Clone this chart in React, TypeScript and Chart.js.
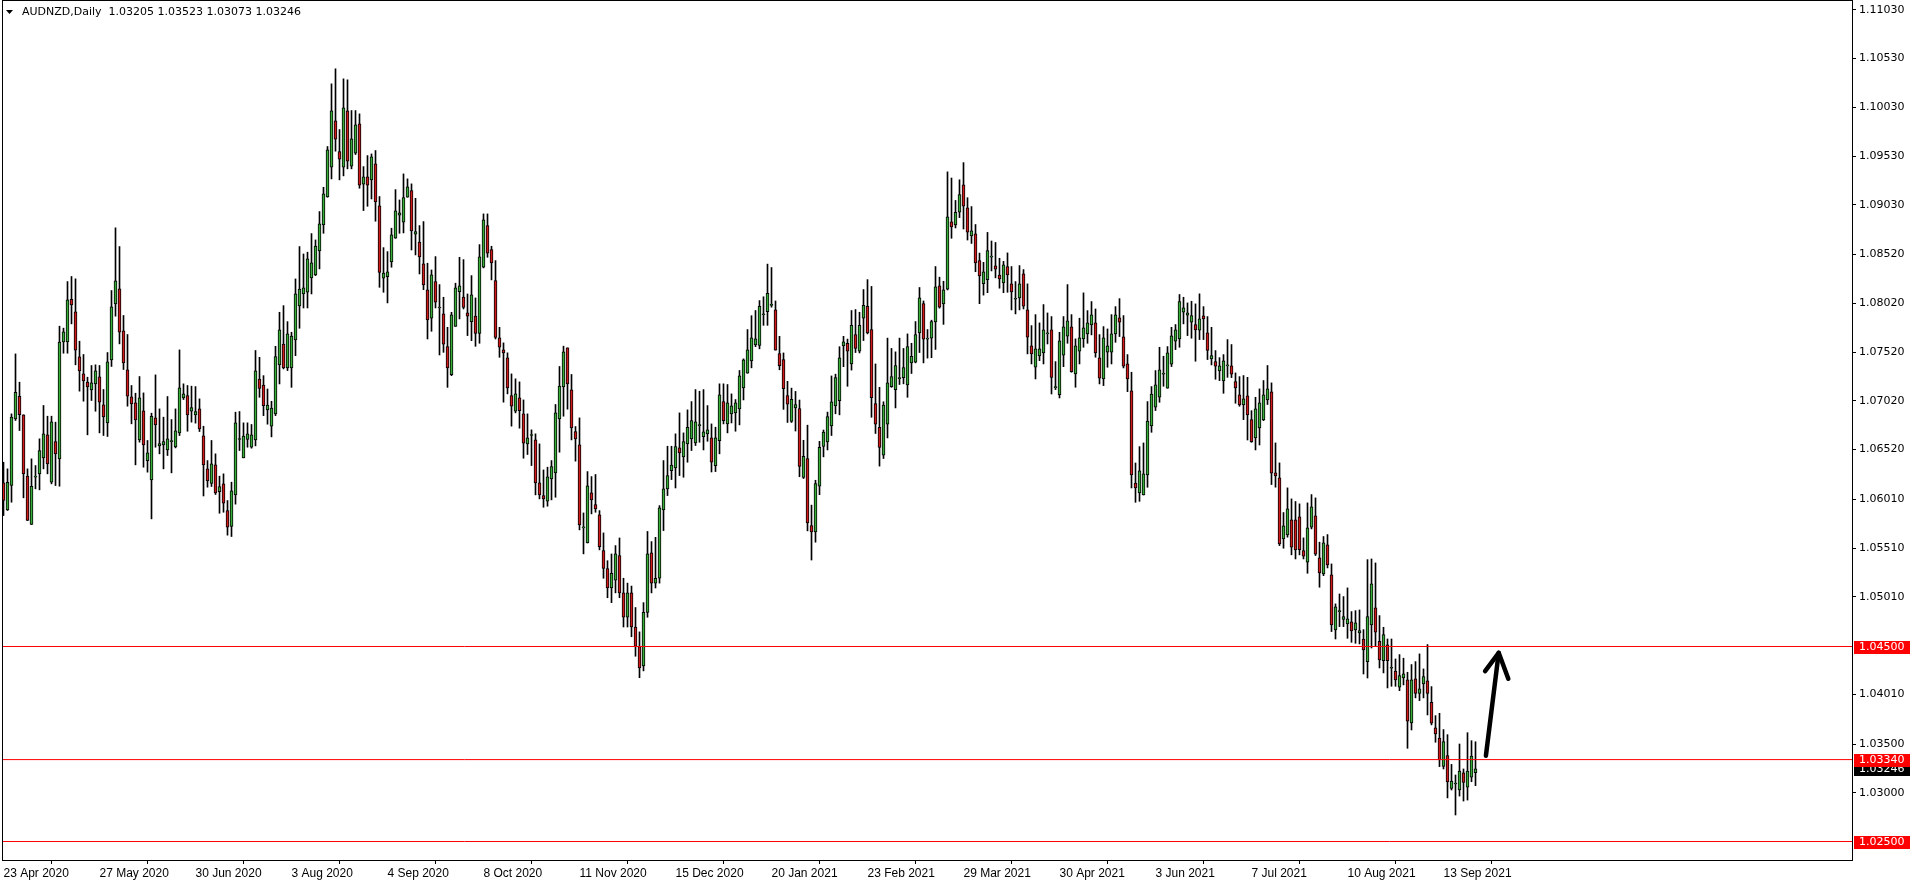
import React, { useEffect, useRef } from 'react';
import { Chart, registerables } from 'chart.js';

Chart.register(...registerables);

const symbolTitle = 'AUDNZD,Daily';
const headerOHLC = ['1.03205', '1.03523', '1.03073', '1.03246'];

const opens = [
  1.06178, 1.05901, 1.06151, 1.06835, 1.07067, 1.06876, 1.06247, 1.05751, 1.06237, 1.06271,
  1.06435, 1.06671, 1.06185, 1.06602, 1.06425, 1.07625, 1.07625, 1.08062, 1.07932, 1.07471,
  1.07296, 1.07211, 1.07132, 1.07194, 1.07266, 1.06978, 1.06794, 1.07440, 1.08014, 1.08168,
  1.07737, 1.07337, 1.07060, 1.06999, 1.06619, 1.06917, 1.06407, 1.06209, 1.06845, 1.06558,
  1.06568, 1.06517, 1.06602, 1.06548, 1.06691, 1.07050, 1.07074, 1.06913, 1.06876, 1.06937,
  1.06660, 1.06322, 1.06172, 1.06363, 1.06089, 1.06168, 1.05895, 1.05731, 1.06055, 1.06623,
  1.06435, 1.06623, 1.06544, 1.06619, 1.07244, 1.07182, 1.06926, 1.06760, 1.06885, 1.07388,
  1.07603, 1.07357, 1.07357, 1.07644, 1.07993, 1.08116, 1.08133, 1.08280, 1.08311, 1.08557,
  1.08824, 1.09111, 1.09416, 1.09891, 1.09576, 1.09416, 1.09994, 1.09426, 1.09559, 1.09860,
  1.09241, 1.09316, 1.09286, 1.09450, 1.09019, 1.08277, 1.08294, 1.08444, 1.08687, 1.08923,
  1.08851, 1.09108, 1.09176, 1.08728, 1.08649, 1.08424, 1.08157, 1.07867, 1.08243, 1.07972,
  1.07911, 1.07576, 1.07289, 1.07784, 1.08140, 1.08085, 1.07921, 1.07832, 1.07890, 1.07712,
  1.08390, 1.08817, 1.08571, 1.08253, 1.07665, 1.07543, 1.07461, 1.07074, 1.06913, 1.07050,
  1.06886, 1.06578, 1.06664, 1.06619, 1.06178, 1.06048, 1.05990, 1.06219, 1.06281, 1.06835,
  1.07163, 1.07563, 1.07132, 1.06705, 1.06568, 1.05716, 1.05562, 1.06075, 1.05956, 1.05850,
  1.05484, 1.05300, 1.05100, 1.05180, 1.05432, 1.05050, 1.04800, 1.05050, 1.04700, 1.04500,
  1.04300, 1.04850, 1.05460, 1.05150, 1.05200, 1.05901, 1.06116, 1.06304, 1.06332, 1.06537,
  1.06445, 1.06578, 1.06630, 1.06588, 1.06766, 1.06653, 1.06680, 1.06640, 1.06355, 1.06612,
  1.07012, 1.06783, 1.06886, 1.06896, 1.06937, 1.07153, 1.07303, 1.07429, 1.07594, 1.07587,
  1.07903, 1.07935, 1.07998, 1.07953, 1.07504, 1.07444, 1.07074, 1.06809, 1.06947, 1.06940,
  1.06234, 1.06428, 1.05739, 1.05676, 1.06145, 1.06551, 1.06597, 1.06763, 1.06968, 1.07021,
  1.07582, 1.07610, 1.07398, 1.07698, 1.07529, 1.07868, 1.07988, 1.07751, 1.06992, 1.06749,
  1.06463, 1.06780, 1.07165, 1.07134, 1.07247, 1.07257, 1.07183, 1.07409, 1.07416, 1.07716,
  1.08016, 1.07653, 1.07663, 1.07829, 1.08200, 1.08013, 1.08164, 1.08856, 1.08825, 1.08955,
  1.09234, 1.08998, 1.08712, 1.08733, 1.08457, 1.08221, 1.08263, 1.08493, 1.08404, 1.08309,
  1.08228, 1.08397, 1.08219, 1.08062, 1.08075, 1.08322, 1.07952, 1.07583, 1.07364, 1.07480,
  1.07511, 1.07706, 1.07747, 1.07155, 1.07083, 1.07487, 1.07682, 1.07778, 1.07296, 1.07528,
  1.07655, 1.07706, 1.07798, 1.07819, 1.07460, 1.07244, 1.07518, 1.07518, 1.07706, 1.07870,
  1.07675, 1.07398, 1.07121, 1.06177, 1.06075, 1.06054, 1.06259, 1.06762, 1.06954, 1.07056,
  1.07292, 1.07149, 1.07395, 1.07631, 1.07655, 1.07928, 1.07898, 1.07826, 1.07802, 1.07744,
  1.07891, 1.07716, 1.07449, 1.07422, 1.07326, 1.07224, 1.07378, 1.07378, 1.07217, 1.07080,
  1.06978, 1.07070, 1.06827, 1.06639, 1.06742, 1.06824, 1.07030, 1.07112, 1.06281, 1.06230,
  1.05603, 1.05645, 1.05798, 1.05798, 1.05829, 1.05484, 1.05364, 1.05723, 1.05839, 1.05409,
  1.05244, 1.05542, 1.05234, 1.04670, 1.04858, 1.04779, 1.04731, 1.04752, 1.04670, 1.04639,
  1.04577, 1.04345, 1.04721, 1.04896, 1.04554, 1.04355, 1.04516, 1.04277, 1.04249, 1.04082,
  1.04178, 1.04157, 1.03716, 1.04168, 1.04020, 1.04116, 1.04147, 1.03928, 1.03665, 1.03562,
  1.03271, 1.03381, 1.03045, 1.03090, 1.03028, 1.03205, 1.03058, 1.03161, 1.03205,
];

const highs = [
  1.06390, 1.06322, 1.06886, 1.07501, 1.07211, 1.06876, 1.06322, 1.06425, 1.06356, 1.06630,
  1.06972, 1.06862, 1.06862, 1.06801, 1.07785, 1.07765, 1.08243, 1.08295, 1.08271, 1.07631,
  1.07495, 1.07262, 1.07382, 1.07389, 1.07382, 1.07136, 1.07515, 1.08151, 1.08794, 1.08602,
  1.07895, 1.07700, 1.07177, 1.07098, 1.07269, 1.07101, 1.06613, 1.06893, 1.07286, 1.06937,
  1.06852, 1.07064, 1.06828, 1.06937, 1.07542, 1.07194, 1.07177, 1.07170, 1.07166, 1.07040,
  1.06759, 1.06407, 1.06613, 1.06476, 1.06247, 1.06271, 1.05997, 1.06185, 1.06903, 1.06910,
  1.06794, 1.06794, 1.06777, 1.07536, 1.07466, 1.07278, 1.07141, 1.07015, 1.07579, 1.07928,
  1.07996, 1.07832, 1.07723, 1.08270, 1.08602, 1.08526, 1.08544, 1.08735, 1.08670, 1.08961,
  1.09210, 1.09628, 1.10271, 1.10425, 1.09802, 1.10322, 1.10312, 1.09997, 1.09997, 1.09963,
  1.09422, 1.09535, 1.09552, 1.09587, 1.09115, 1.08591, 1.08550, 1.08790, 1.09186, 1.09080,
  1.09347, 1.09296, 1.09245, 1.09097, 1.08817, 1.08858, 1.08431, 1.08362, 1.08499, 1.08212,
  1.08082, 1.07774, 1.07928, 1.08226, 1.08492, 1.08468, 1.08116, 1.08304, 1.08075, 1.08622,
  1.08937, 1.08937, 1.08605, 1.08458, 1.07774, 1.07614, 1.07512, 1.07296, 1.07245, 1.07214,
  1.07029, 1.06886, 1.06722, 1.06681, 1.06578, 1.06311, 1.06339, 1.06407, 1.06982, 1.07372,
  1.07580, 1.07563, 1.07290, 1.06756, 1.06845, 1.05870, 1.06294, 1.06243, 1.06264, 1.05894,
  1.05665, 1.05380, 1.05449, 1.05535, 1.05613, 1.05200, 1.05150, 1.05120, 1.04900, 1.04650,
  1.04950, 1.05680, 1.05576, 1.05620, 1.05945, 1.06407, 1.06554, 1.06554, 1.06681, 1.06896,
  1.06691, 1.06927, 1.07012, 1.07135, 1.07118, 1.07135, 1.06971, 1.06783, 1.06749, 1.07194,
  1.07194, 1.07187, 1.07091, 1.07033, 1.07331, 1.07450, 1.07751, 1.07893, 1.07946, 1.08048,
  1.08087, 1.08422, 1.08387, 1.08044, 1.07681, 1.07511, 1.07220, 1.07150, 1.07116, 1.07028,
  1.06615, 1.06770, 1.05950, 1.06205, 1.06604, 1.06720, 1.06904, 1.07275, 1.07293, 1.07575,
  1.07681, 1.07653, 1.07946, 1.07956, 1.07928, 1.08161, 1.08263, 1.08193, 1.07398, 1.07158,
  1.07010, 1.07663, 1.07557, 1.07522, 1.07663, 1.07557, 1.07706, 1.07610, 1.07833, 1.08182,
  1.08044, 1.07751, 1.07847, 1.08397, 1.08288, 1.08246, 1.09368, 1.09305, 1.09075, 1.09287,
  1.09463, 1.09103, 1.09012, 1.08828, 1.08535, 1.08440, 1.08747, 1.08659, 1.08644, 1.08482,
  1.08450, 1.08537, 1.08397, 1.08243, 1.08407, 1.08366, 1.08219, 1.07791, 1.07904, 1.07819,
  1.08007, 1.07921, 1.07884, 1.07422, 1.07723, 1.07884, 1.08212, 1.07904, 1.07655, 1.07867,
  1.08127, 1.07945, 1.08038, 1.07962, 1.07699, 1.07781, 1.07757, 1.07904, 1.07986, 1.08068,
  1.07894, 1.07494, 1.07313, 1.06382, 1.06550, 1.06588, 1.07012, 1.07166, 1.07330, 1.07569,
  1.07477, 1.07576, 1.07774, 1.07802, 1.08110, 1.08082, 1.08024, 1.08041, 1.08014, 1.08117,
  1.07986, 1.07884, 1.07774, 1.07535, 1.07463, 1.07494, 1.07648, 1.07597, 1.07306, 1.07268,
  1.07279, 1.07261, 1.06919, 1.07056, 1.07142, 1.07228, 1.07382, 1.07204, 1.06588, 1.06383,
  1.05874, 1.06127, 1.06014, 1.05987, 1.05963, 1.05614, 1.05973, 1.06058, 1.06024, 1.05570,
  1.05628, 1.05648, 1.05347, 1.04937, 1.05039, 1.05012, 1.05101, 1.04858, 1.04868, 1.04875,
  1.04673, 1.05391, 1.05398, 1.05357, 1.04817, 1.04697, 1.04577, 1.04577, 1.04372, 1.04417,
  1.04380, 1.04236, 1.04315, 1.04345, 1.04424, 1.04270, 1.04520, 1.04089, 1.03791, 1.03815,
  1.03648, 1.03596, 1.03291, 1.03182, 1.03500, 1.03244, 1.03616, 1.03534, 1.03523,
];

const lows = [
  1.05843, 1.05895, 1.05980, 1.06818, 1.06715, 1.06025, 1.05792, 1.05751, 1.06117, 1.06107,
  1.06322, 1.06271, 1.06168, 1.06151, 1.06144, 1.07508, 1.07508, 1.07809, 1.07389, 1.07119,
  1.07016, 1.06671, 1.07023, 1.06913, 1.06691, 1.06664, 1.06654, 1.07372, 1.07888, 1.07604,
  1.07341, 1.06965, 1.06784, 1.06363, 1.06596, 1.06339, 1.06288, 1.05809, 1.06544, 1.06476,
  1.06322, 1.06459, 1.06281, 1.06537, 1.06664, 1.07033, 1.06708, 1.06801, 1.06791, 1.06705,
  1.06044, 1.06134, 1.06141, 1.06059, 1.05867, 1.05877, 1.05642, 1.05628, 1.05960, 1.06510,
  1.06435, 1.06544, 1.06534, 1.06558, 1.07056, 1.06868, 1.06780, 1.06650, 1.06868, 1.07193,
  1.07347, 1.07330, 1.07158, 1.07483, 1.07764, 1.07972, 1.07972, 1.08116, 1.08304, 1.08373,
  1.08738, 1.09108, 1.09296, 1.09580, 1.09286, 1.09327, 1.09399, 1.09399, 1.09546, 1.09200,
  1.08971, 1.09015, 1.09090, 1.08862, 1.08184, 1.08133, 1.08024, 1.08390, 1.08687, 1.08738,
  1.08742, 1.09108, 1.08567, 1.08516, 1.08321, 1.08160, 1.07654, 1.07733, 1.07972, 1.07490,
  1.07517, 1.07158, 1.07278, 1.07784, 1.07860, 1.07962, 1.07689, 1.07637, 1.07579, 1.07610,
  1.08383, 1.08492, 1.08260, 1.07654, 1.07466, 1.07006, 1.07091, 1.06760, 1.06896, 1.06739,
  1.06431, 1.06469, 1.06356, 1.06055, 1.06014, 1.05928, 1.05939, 1.06004, 1.06031, 1.06493,
  1.06862, 1.06934, 1.06619, 1.06401, 1.05696, 1.05450, 1.05562, 1.05860, 1.05877, 1.05491,
  1.05200, 1.05000, 1.04950, 1.05050, 1.05000, 1.04700, 1.04700, 1.04600, 1.04400, 1.04180,
  1.04250, 1.04800, 1.05050, 1.05100, 1.05150, 1.05689, 1.06048, 1.06212, 1.06126, 1.06253,
  1.06236, 1.06390, 1.06510, 1.06561, 1.06595, 1.06516, 1.06605, 1.06290, 1.06294, 1.06476,
  1.06783, 1.06691, 1.06793, 1.06708, 1.06773, 1.07029, 1.07303, 1.07358, 1.07575, 1.07553,
  1.07794, 1.07794, 1.07980, 1.07540, 1.07338, 1.06932, 1.06798, 1.06798, 1.06710, 1.06241,
  1.06223, 1.05686, 1.05387, 1.05570, 1.06057, 1.06445, 1.06516, 1.06664, 1.06887, 1.06876,
  1.07370, 1.07169, 1.07335, 1.07515, 1.07511, 1.07638, 1.07706, 1.06851, 1.06685, 1.06350,
  1.06428, 1.06639, 1.07158, 1.06947, 1.07187, 1.07194, 1.07056, 1.07300, 1.07409, 1.07515,
  1.07409, 1.07458, 1.07462, 1.07547, 1.07970, 1.07804, 1.08157, 1.08687, 1.08793, 1.08899,
  1.08782, 1.08669, 1.08634, 1.08344, 1.08016, 1.08104, 1.08129, 1.08352, 1.08281, 1.08175,
  1.08129, 1.08133, 1.07952, 1.07911, 1.07952, 1.07962, 1.07501, 1.07398, 1.07244, 1.07432,
  1.07398, 1.07603, 1.07090, 1.07135, 1.07049, 1.07370, 1.07610, 1.07313, 1.07159, 1.07398,
  1.07569, 1.07610, 1.07696, 1.07467, 1.07193, 1.07176, 1.07364, 1.07398, 1.07620, 1.07679,
  1.07357, 1.07114, 1.06126, 1.05979, 1.05989, 1.06054, 1.06133, 1.06697, 1.06920, 1.07005,
  1.07169, 1.07149, 1.07371, 1.07545, 1.07569, 1.07809, 1.07689, 1.07662, 1.07426, 1.07648,
  1.07648, 1.07443, 1.07388, 1.07241, 1.07227, 1.07097, 1.07261, 1.07258, 1.06995, 1.06964,
  1.06827, 1.06618, 1.06594, 1.06516, 1.06567, 1.06817, 1.06982, 1.06161, 1.06134, 1.05535,
  1.05508, 1.05621, 1.05440, 1.05398, 1.05440, 1.05398, 1.05251, 1.05706, 1.05433, 1.05108,
  1.05227, 1.05306, 1.04653, 1.04577, 1.04704, 1.04704, 1.04584, 1.04543, 1.04533, 1.04526,
  1.04218, 1.04177, 1.04485, 1.04502, 1.04280, 1.04229, 1.04075, 1.04092, 1.04092, 1.04047,
  1.04106, 1.03456, 1.03644, 1.03973, 1.03945, 1.03973, 1.03798, 1.03696, 1.03518, 1.03268,
  1.03244, 1.02947, 1.03028, 1.02772, 1.02966, 1.02915, 1.02925, 1.03113, 1.03073,
];

const closes = [
  1.05997, 1.06185, 1.06852, 1.07108, 1.06879, 1.06271, 1.05792, 1.06144, 1.06237, 1.06510,
  1.06681, 1.06373, 1.06804, 1.06476, 1.07621, 1.07727, 1.08055, 1.08004, 1.07539, 1.07327,
  1.07225, 1.07163, 1.07204, 1.07327, 1.07006, 1.06855, 1.07419, 1.07984, 1.08250, 1.07724,
  1.07409, 1.07067, 1.06989, 1.06825, 1.07050, 1.06568, 1.06486, 1.06862, 1.06773, 1.06582,
  1.06602, 1.06630, 1.06602, 1.06712, 1.07153, 1.07091, 1.06876, 1.06951, 1.06910, 1.06732,
  1.06363, 1.06199, 1.06373, 1.06076, 1.06141, 1.05970, 1.05724, 1.06096, 1.06794, 1.06623,
  1.06657, 1.06681, 1.06671, 1.07327, 1.07148, 1.06970, 1.06977, 1.06946, 1.07473, 1.07747,
  1.07357, 1.07706, 1.07685, 1.08116, 1.08167, 1.08178, 1.08475, 1.08434, 1.08608, 1.08834,
  1.09142, 1.09593, 1.09994, 1.09703, 1.09498, 1.10024, 1.09477, 1.09706, 1.09850, 1.09231,
  1.09316, 1.09231, 1.09522, 1.09060, 1.08338, 1.08331, 1.08342, 1.08721, 1.08968, 1.08947,
  1.09104, 1.09214, 1.08762, 1.08756, 1.08496, 1.08208, 1.07850, 1.08311, 1.08031, 1.07972,
  1.07600, 1.07357, 1.07901, 1.08178, 1.08198, 1.07979, 1.07887, 1.08106, 1.07712, 1.08496,
  1.08875, 1.08533, 1.08434, 1.07671, 1.07569, 1.07512, 1.07153, 1.06965, 1.07091, 1.06920,
  1.06585, 1.06640, 1.06664, 1.06178, 1.06055, 1.06014, 1.06240, 1.06346, 1.06896, 1.07170,
  1.07522, 1.07194, 1.06742, 1.06630, 1.05747, 1.05716, 1.06147, 1.06004, 1.05911, 1.05525,
  1.05300, 1.05100, 1.05250, 1.05450, 1.05050, 1.04800, 1.05050, 1.04700, 1.04500, 1.04280,
  1.04850, 1.05450, 1.05150, 1.05200, 1.05921, 1.06116, 1.06253, 1.06362, 1.06551, 1.06486,
  1.06602, 1.06749, 1.06817, 1.06804, 1.06766, 1.06701, 1.06722, 1.06390, 1.06640, 1.07080,
  1.06817, 1.06998, 1.06968, 1.06998, 1.07276, 1.07440, 1.07543, 1.07665, 1.07656, 1.07990,
  1.07903, 1.08122, 1.07998, 1.07540, 1.07381, 1.07144, 1.06985, 1.07035, 1.06982, 1.06347,
  1.06450, 1.05767, 1.05676, 1.06170, 1.06544, 1.06699, 1.06858, 1.07010, 1.07257, 1.07462,
  1.07624, 1.07529, 1.07794, 1.07557, 1.07794, 1.07998, 1.07716, 1.07052, 1.06780, 1.06541,
  1.06975, 1.07204, 1.07268, 1.07381, 1.07247, 1.07360, 1.07575, 1.07476, 1.07698, 1.08076,
  1.07653, 1.07653, 1.07833, 1.08190, 1.07981, 1.08157, 1.08906, 1.08803, 1.08952, 1.09135,
  1.09015, 1.08750, 1.08764, 1.08433, 1.08302, 1.08344, 1.08560, 1.08493, 1.08369, 1.08270,
  1.08415, 1.08311, 1.08137, 1.08062, 1.08219, 1.07990, 1.07672, 1.07501, 1.07552, 1.07552,
  1.07747, 1.07706, 1.07261, 1.07155, 1.07634, 1.07778, 1.07840, 1.07320, 1.07583, 1.07665,
  1.07768, 1.07819, 1.07901, 1.07511, 1.07251, 1.07665, 1.07583, 1.07706, 1.07901, 1.07826,
  1.07374, 1.07244, 1.06259, 1.06126, 1.06301, 1.06270, 1.06813, 1.07090, 1.07183, 1.07337,
  1.07292, 1.07511, 1.07686, 1.07747, 1.08038, 1.07973, 1.07921, 1.07894, 1.07747, 1.07860,
  1.07860, 1.07538, 1.07484, 1.07374, 1.07378, 1.07429, 1.07378, 1.07292, 1.07152, 1.06978,
  1.07039, 1.06875, 1.06601, 1.06937, 1.06998, 1.07081, 1.07142, 1.06277, 1.06250, 1.05552,
  1.05737, 1.05911, 1.05518, 1.05490, 1.05494, 1.05426, 1.05716, 1.05932, 1.05446, 1.05255,
  1.05563, 1.05337, 1.04721, 1.04906, 1.04858, 1.04807, 1.04783, 1.04660, 1.04742, 1.04663,
  1.04465, 1.04807, 1.05142, 1.04646, 1.04362, 1.04622, 1.04355, 1.04277, 1.04157, 1.04201,
  1.04219, 1.03733, 1.04157, 1.04020, 1.04065, 1.04191, 1.04020, 1.03713, 1.03603, 1.03336,
  1.03525, 1.03111, 1.03120, 1.03090, 1.03223, 1.03106, 1.03223, 1.03376, 1.03246,
];

const xTickLabels = [
  '23 Apr 2020', '27 May 2020', '30 Jun 2020', '3 Aug 2020', '4 Sep 2020', '8 Oct 2020',
  '11 Nov 2020', '15 Dec 2020', '20 Jan 2021', '23 Feb 2021', '29 Mar 2021', '30 Apr 2021',
  '3 Jun 2021', '7 Jul 2021', '10 Aug 2021', '13 Sep 2021',
];
const barsPerXTick = 24;

const yTickValues = [
  1.1103, 1.1053, 1.1003, 1.0953, 1.0903, 1.0852, 1.0802, 1.0752, 1.0702, 1.0652,
  1.0601, 1.0551, 1.0501, 1.0401, 1.035, 1.03,
];

const levelPrices = [1.045, 1.0334, 1.025];
const currentPrice = 1.03246;

const arrowShaftX = [370.6, 373.8];
const arrowShaftY = [1.0338, 1.04435];
const arrowHeadX = [370.4, 373.8, 376.2];
const arrowHeadY = [1.04247, 1.04435, 1.04169];

const BULL = '#38ad38';
const BEAR = '#d11b1b';
const LEVEL = '#ff0000';

export default function App() {
  const ref = useRef<HTMLCanvasElement>(null);

  useEffect(() => {
    document.body.style.margin = '0';
    const canvas = ref.current;
    if (!canvas) return;

    const X_MIN = -0.375;
    const X_MAX = 462.125;
    const Y_MAX = 1.111205;
    const Y_MIN = 1.023103;

    const idx = opens.map((_, i) => i);
    const wickData = idx.map((i) => ({ x: i, y: [lows[i], highs[i]] }));
    const bodyData = idx.map((i) => ({ x: i, y: [opens[i], closes[i]] }));
    const bodyColors = idx.map((i) => (closes[i] >= opens[i] ? BULL : BEAR));

    const levelSets = levelPrices.map((p) => ({
      type: 'line' as const,
      data: [{ x: X_MIN, y: p }, { x: X_MAX, y: p }],
      borderColor: LEVEL,
      borderWidth: 1,
      pointRadius: 0,
      order: 1,
    }));

    const overlay = {
      id: 'mt4overlay',
      afterDraw(chart: any) {
        const { ctx, chartArea: a, scales } = chart;
        const ys = scales.y;
        ctx.save();
        // frame
        ctx.strokeStyle = '#000';
        ctx.lineWidth = 1;
        ctx.strokeRect(a.left + 0.5, a.top - 0.5, a.right - a.left, a.bottom - a.top + 1);

        // header
        ctx.fillStyle = '#000';
        ctx.beginPath();
        ctx.moveTo(6, 10);
        ctx.lineTo(13, 10);
        ctx.lineTo(9.5, 14);
        ctx.closePath();
        ctx.fill();
        ctx.font = '11px "DejaVu Sans"';
        ctx.textBaseline = 'middle';
        ctx.textAlign = 'left';
        ctx.fillText(symbolTitle + '  ' + headerOHLC.join(' '), 22, 12.5);

        // price boxes
        const box = (p: number, bg: string) => {
          const y = ys.getPixelForValue(p);
          ctx.fillStyle = bg;
          ctx.fillRect(a.right + 2, Math.round(y) - 6, 56, 13);
          ctx.fillStyle = '#fff';
          ctx.font = '11px "DejaVu Sans"';
          ctx.textBaseline = 'middle';
          ctx.fillText(p.toFixed(5), a.right + 7, Math.round(y) + 0.5);
        };
        box(currentPrice, '#000');
        levelPrices.forEach((p) => box(p, LEVEL));
        ctx.restore();
      },
    };

    const chart = new Chart(canvas, {
      type: 'bar',
      data: {
        datasets: [
          {
            type: 'line',
            data: arrowShaftX.map((x, i) => ({ x, y: arrowShaftY[i] })),
            borderColor: '#000',
            borderWidth: 4.5,
            borderCapStyle: 'round',
            borderJoinStyle: 'round',
            pointRadius: 0,
            order: 0,
          },
          {
            type: 'line',
            data: arrowHeadX.map((x, i) => ({ x, y: arrowHeadY[i] })),
            borderColor: '#000',
            borderWidth: 4.5,
            borderCapStyle: 'round',
            borderJoinStyle: 'round',
            pointRadius: 0,
            order: 0,
          },
          ...levelSets,
          {
            type: 'bar',
            data: bodyData,
            backgroundColor: bodyColors,
            borderColor: '#000',
            borderWidth: 1,
            borderSkipped: false,
            barThickness: 3,
            minBarLength: 1,
            grouped: false,
            order: 2,
          },
          {
            type: 'bar',
            data: wickData,
            backgroundColor: '#000',
            borderWidth: 0,
            barThickness: 1,
            grouped: false,
            order: 3,
          },
        ] as any,
      },
      options: {
        animation: false,
        responsive: false,
        devicePixelRatio: 1,
        events: [],
        layout: { autoPadding: false, padding: { left: 2, top: 1, right: 0, bottom: 0 } },
        plugins: { legend: { display: false }, tooltip: { enabled: false } },
        scales: {
          x: {
            type: 'linear',
            min: X_MIN,
            max: X_MAX,
            offset: false,
            position: 'bottom',
            afterBuildTicks: (s: any) => {
              s.ticks = xTickLabels.map((_, k) => ({ value: k * barsPerXTick }));
            },
            afterFit: (s: any) => {
              s.height = 24;
              s.paddingLeft = 0;
              s.paddingRight = 0;
            },
            ticks: {
              autoSkip: false,
              maxRotation: 0,
              minRotation: 0,
              align: 'start',
              padding: 2,
              color: '#000',
              font: { family: '"Liberation Sans"', size: 12 },
              callback: (v: any) => xTickLabels[Math.round(Number(v) / barsPerXTick)] ?? '',
            },
            grid: { drawOnChartArea: false, drawTicks: true, tickLength: 4, color: '#000' },
            border: { display: false },
          },
          y: {
            type: 'linear',
            position: 'right',
            min: Y_MIN,
            max: Y_MAX,
            afterBuildTicks: (s: any) => {
              s.ticks = yTickValues.map((v) => ({ value: v }));
            },
            afterFit: (s: any) => {
              s.width = 64;
              s.paddingTop = 0;
              s.paddingBottom = 0;
            },
            ticks: {
              padding: 3,
              color: '#000',
              font: { family: '"DejaVu Sans"', size: 11 },
              callback: (v: any) => Number(v).toFixed(5),
            },
            grid: { drawOnChartArea: false, drawTicks: true, tickLength: 4, color: '#000' },
            border: { display: false },
          },
        },
      } as any,
      plugins: [overlay],
    });

    return () => chart.destroy();
  }, []);

  return (
    <div style={{ width: 1916, height: 884, background: '#fff' }}>
      <canvas ref={ref} width={1916} height={884} style={{ display: 'block' }} />
    </div>
  );
}
